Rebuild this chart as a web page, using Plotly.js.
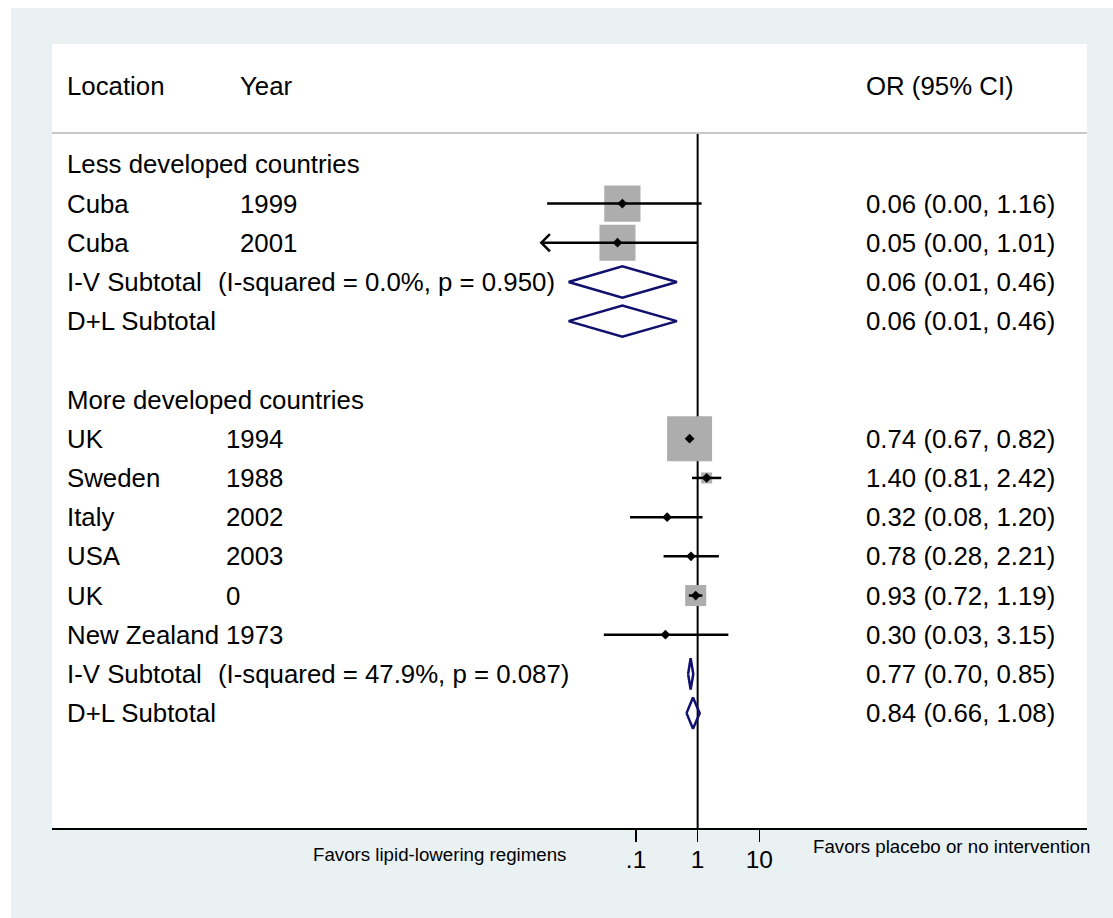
<!DOCTYPE html>
<html>
<head>
<meta charset="utf-8">
<script src="https://cdn.plot.ly/plotly-3.0.1.min.js"></script>
<style>
  html, body { margin: 0; padding: 0; background: #ffffff; }
  #plot { position: absolute; left: 11px; top: 8px; width: 1102px; height: 910px; }
</style>
</head>
<body>
<div id="plot"></div>
<script>
// ---------------- DATA ----------------
const groupNames = ['Less developed countries', 'More developed countries'];
const studyGroup = [0, 0, 1, 1, 1, 1, 1, 1];
const studyLocation = ['Cuba', 'Cuba', 'UK', 'Sweden', 'Italy', 'USA', 'UK', 'New Zealand'];
const studyYear = ['1999', '2001', '1994', '1988', '2002', '2003', '0', '1973'];
const studyOR = [0.06, 0.05, 0.74, 1.40, 0.32, 0.78, 0.93, 0.30];
const studyLo = [0.0036, 0.0020, 0.67, 0.81, 0.08, 0.28, 0.72, 0.03];
const studyHi = [1.16, 1.01, 0.82, 2.42, 1.20, 2.21, 1.19, 3.15];
const studyWeight = [50.3, 49.7, 77.5, 4.6, 0.5, 0.4, 16.9, 0.1];

const ivOR = [0.06, 0.77];
const ivLo = [0.008, 0.70];
const ivHi = [0.46, 0.85];
const ivI2 = ['0.0%', '47.9%'];
const ivP = ['0.950', '0.087'];
const dlOR = [0.06, 0.84];
const dlLo = [0.008, 0.66];
const dlHi = [0.46, 1.08];

const tickVals = [0.1, 1, 10];
const tickText = ['.1', '1', '10'];
const headers = ['Location', 'Year', 'OR (95% CI)'];
const leftNote = 'Favors lipid-lowering regimens';
const rightNote = 'Favors placebo or no intervention';
const clipMin = 0.0029;   // lower display limit of CI lines (arrow beyond)

// ---------------- LAYOUT HELPERS ----------------
const FONT = '"Liberation Sans", Arial, Helvetica, sans-serif';
const TXT = 25.8;
const PLOT_L = 52, PLOT_R = 1087;
const px = p => (p - PLOT_L - 2.5) / (PLOT_R - PLOT_L);
const colLoc = px(67), colYear = [px(240), px(226)], colNote = px(218), colOR = px(866);
const yTop = -1.07, yBottom = 18.93, sepRow = 1.2;
const fmt = v => v.toFixed(2);
const ciText = (o, l, h) => fmt(o) + ' (' + fmt(l) + ', ' + fmt(h) + ')';

// compute rows
const studyRow = [], groupRow = [], ivRow = [], dlRow = [];
let r = 2;
groupNames.forEach((g, gi) => {
  groupRow.push(r); r++;
  studyGroup.forEach((sg, i) => { if (sg === gi) { studyRow[i] = r; r++; } });
  ivRow.push(r); r++;
  dlRow.push(r); r++;
  r++;
});

const annotations = [];
function addText(x, y, text, opts) {
  annotations.push(Object.assign({
    xref: 'paper', yref: 'y', x: x, y: y, text: text, showarrow: false,
    xanchor: 'left', yanchor: 'middle', font: {family: FONT, size: TXT, color: '#000'}
  }, opts || {}));
}
addText(colLoc, 0, headers[0]);
addText(colYear[0], 0, headers[1]);
addText(colOR, 0, headers[2]);
groupNames.forEach((g, gi) => {
  addText(colLoc, groupRow[gi], g);
  addText(colLoc, ivRow[gi], 'I-V Subtotal');
  addText(colNote, ivRow[gi], '(I-squared = ' + ivI2[gi] + ', p = ' + ivP[gi] + ')');
  addText(colOR, ivRow[gi], ciText(ivOR[gi], ivLo[gi], ivHi[gi]));
  addText(colLoc, dlRow[gi], 'D+L Subtotal');
  addText(colOR, dlRow[gi], ciText(dlOR[gi], dlLo[gi], dlHi[gi]));
});
studyLocation.forEach((loc, i) => {
  addText(colLoc, studyRow[i], loc);
  addText(colYear[studyGroup[i]], studyRow[i], studyYear[i]);
  addText(colOR, studyRow[i], ciText(studyOR[i], studyLo[i], studyHi[i]));
});
annotations.push({xref: 'paper', yref: 'paper', x: px(570), y: -0.0344, xanchor: 'right', yanchor: 'middle',
  text: leftNote, showarrow: false, font: {family: FONT, size: 18.7, color: '#000'}});
annotations.push({xref: 'paper', yref: 'paper', x: px(813), y: -0.0242, xanchor: 'left', yanchor: 'middle',
  text: rightNote, showarrow: false, font: {family: FONT, size: 18.7, color: '#000'}});

// ---------------- TRACES ----------------
const traces = [];
// reference line at OR = 1
traces.push({x: [1, 1], y: [sepRow, yBottom], mode: 'lines', line: {color: '#000', width: 2},
  hoverinfo: 'skip', showlegend: false, cliponaxis: false});
// weight boxes
traces.push({x: studyOR, y: studyRow, mode: 'markers', showlegend: false, hoverinfo: 'skip',
  marker: {symbol: 'square', color: '#adadad', opacity: 1, size: studyWeight.map(w => 5.11 * Math.sqrt(w)), line: {width: 0}}});
// CI lines
const cx = [], cy = [];
studyOR.forEach((o, i) => {
  cx.push(Math.max(studyLo[i], clipMin), studyHi[i], null);
  cy.push(studyRow[i], studyRow[i], null);
});
traces.push({x: cx, y: cy, mode: 'lines', line: {color: '#000', width: 2.5}, hoverinfo: 'skip', showlegend: false});
// arrow heads for clipped CIs
const ax = [], ay = [];
studyLo.forEach((l, i) => {
  if (l < clipMin) {
    ax.push(clipMin * 1.38, clipMin, clipMin * 1.38, null);
    ay.push(studyRow[i] - 0.22, studyRow[i], studyRow[i] + 0.22, null);
  }
});
traces.push({x: ax, y: ay, mode: 'lines', line: {color: '#000', width: 2.5}, hoverinfo: 'skip', showlegend: false});
// point estimates
traces.push({x: studyOR, y: studyRow, mode: 'markers', showlegend: false, hoverinfo: 'skip',
  marker: {symbol: 'diamond', color: '#000', size: 7.5, line: {width: 0}}});
// subtotal diamonds
const dx = [], dy = [];
const H = 0.4;
groupNames.forEach((g, gi) => {
  [[ivOR, ivLo, ivHi, ivRow], [dlOR, dlLo, dlHi, dlRow]].forEach(([o, l, h, rw]) => {
    dx.push(l[gi], o[gi], h[gi], o[gi], l[gi], null);
    dy.push(rw[gi], rw[gi] - H, rw[gi], rw[gi] + H, rw[gi], null);
  });
});
traces.push({x: dx, y: dy, mode: 'lines', line: {color: '#10106e', width: 2.5}, hoverinfo: 'skip', showlegend: false});

// ---------------- LAYOUT ----------------
const layout = {
  width: 1102, height: 910,
  margin: {l: PLOT_L - 11, r: 1113 - PLOT_R, t: 44 - 8, b: 918 - 828, pad: 0},
  paper_bgcolor: '#eaf1f3',
  plot_bgcolor: '#ffffff',
  showlegend: false,
  xaxis: {
    type: 'log', range: [-10.48, 6.32], showgrid: false, zeroline: false,
    showline: true, linecolor: '#000', linewidth: 2, mirror: false,
    tickmode: 'array', tickvals: tickVals, ticktext: tickText,
    ticks: 'outside', ticklen: 12, tickwidth: 1.5, tickcolor: '#000', ticklabelstandoff: -3,
    tickfont: {family: FONT, size: 24.5, color: '#000'}, fixedrange: true
  },
  yaxis: {
    range: [yBottom, yTop], showgrid: false, zeroline: false, showline: false,
    showticklabels: false, ticks: '', fixedrange: true
  },
  shapes: [{type: 'line', xref: 'paper', yref: 'y', x0: 0, x1: 1, y0: sepRow, y1: sepRow,
    line: {color: '#c8c8c8', width: 2}}],
  annotations: annotations
};

Plotly.newPlot('plot', traces, layout, {displayModeBar: false, staticPlot: true});
</script>
</body>
</html>
